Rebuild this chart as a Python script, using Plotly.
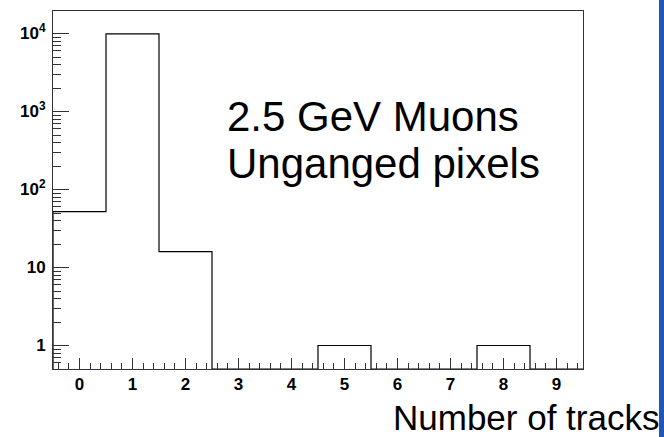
import plotly.graph_objects as go

# Track multiplicity per event (bin centres 0..9)
n_tracks = [0, 1, 2, 3, 4, 5, 6, 7, 8, 9]
events = [52, 9930, 16, 0, 0, 1, 0, 0, 1, 0]

x_tick_vals = [0, 1, 2, 3, 4, 5, 6, 7, 8, 9]
y_tick_vals = [1, 10, 100, 1000, 10000]
y_tick_text = ["<b>1</b>", "<b>10</b>", "<b>10<sup>2</sup></b>",
               "<b>10<sup>3</sup></b>", "<b>10<sup>4</sup></b>"]

y_min = 0.5
y_log_range = [-0.301, 4.289]
x_range = [-0.5, 9.5]

# Step outline of the histogram; empty bins sit on the lower axis edge
edges_left = [c - 0.5 for c in n_tracks]
heights = [v if v > 0 else y_min for v in events]
step_x = [edges_left[0]] + edges_left + [n_tracks[-1] + 0.5, n_tracks[-1] + 0.5]
step_y = [y_min] + heights + [heights[-1], y_min]

fig = go.Figure()
fig.add_trace(go.Scatter(
    x=step_x, y=step_y, mode="lines", line_shape="hv",
    line=dict(color="black", width=1.2), hoverinfo="skip", showlegend=False,
    cliponaxis=False,
))

W, H = 664, 437
ml, mr, mt, mb = 53, 81, 11, 68
pw, ph = W - ml - mr, H - mt - mb

def px_x(p):
    return (p - ml) / pw

def px_y(p):
    return (H - mb - p) / ph

sans = "Liberation Sans, Arial, sans-serif"
tick_font = dict(family=sans, size=17, color="black")

fig.update_layout(
    width=W, height=H,
    margin=dict(l=ml, r=mr, t=mt, b=mb, pad=0),
    paper_bgcolor="white", plot_bgcolor="white",
    xaxis=dict(
        range=x_range, showgrid=False, zeroline=False,
        showline=True, mirror=True, linecolor="#333", linewidth=1,
        tickmode="array", tickvals=x_tick_vals,
        ticktext=[f"<b>{v}</b>" for v in x_tick_vals],
        ticks="inside", ticklen=11, tickwidth=1, tickcolor="#333",
        minor=dict(ticks="inside", ticklen=6, tickwidth=1, tickcolor="#333",
                   dtick=0.2, tick0=0, showgrid=False),
        tickfont=tick_font,
    ),
    yaxis=dict(
        type="log", range=y_log_range, showgrid=False, zeroline=False,
        showline=True, mirror=True, linecolor="#333", linewidth=1,
        tickmode="array", tickvals=y_tick_vals, ticktext=y_tick_text,
        ticks="inside", ticklen=16, tickwidth=1, tickcolor="#333",
        minor=dict(ticks="inside", ticklen=8, tickwidth=1, tickcolor="#333",
                   dtick="D1", showgrid=False),
        tickfont=tick_font, ticklabelstandoff=3,
    ),
    annotations=[
        dict(text="2.5 GeV Muons", xref="paper", yref="paper",
             x=px_x(225), y=px_y(116), xanchor="left", yanchor="middle",
             showarrow=False,
             font=dict(family=sans, size=42, color="black")),
        dict(text="Unganged pixels", xref="paper", yref="paper",
             x=px_x(225), y=px_y(163), xanchor="left", yanchor="middle",
             showarrow=False,
             font=dict(family=sans, size=42, color="black")),
        dict(text="Number of tracks", xref="paper", yref="paper",
             x=px_x(661), y=px_y(417), xanchor="right", yanchor="middle",
             showarrow=False,
             font=dict(family=sans, size=35, color="black")),
    ],
    shapes=[
        dict(type="rect", xref="paper", yref="paper", layer="above",
             x0=px_x(659), x1=px_x(670), y0=px_y(440), y1=px_y(-3),
             fillcolor="#1f56b8", line=dict(width=0)),
    ],
)

fig.write_html("out.html")
